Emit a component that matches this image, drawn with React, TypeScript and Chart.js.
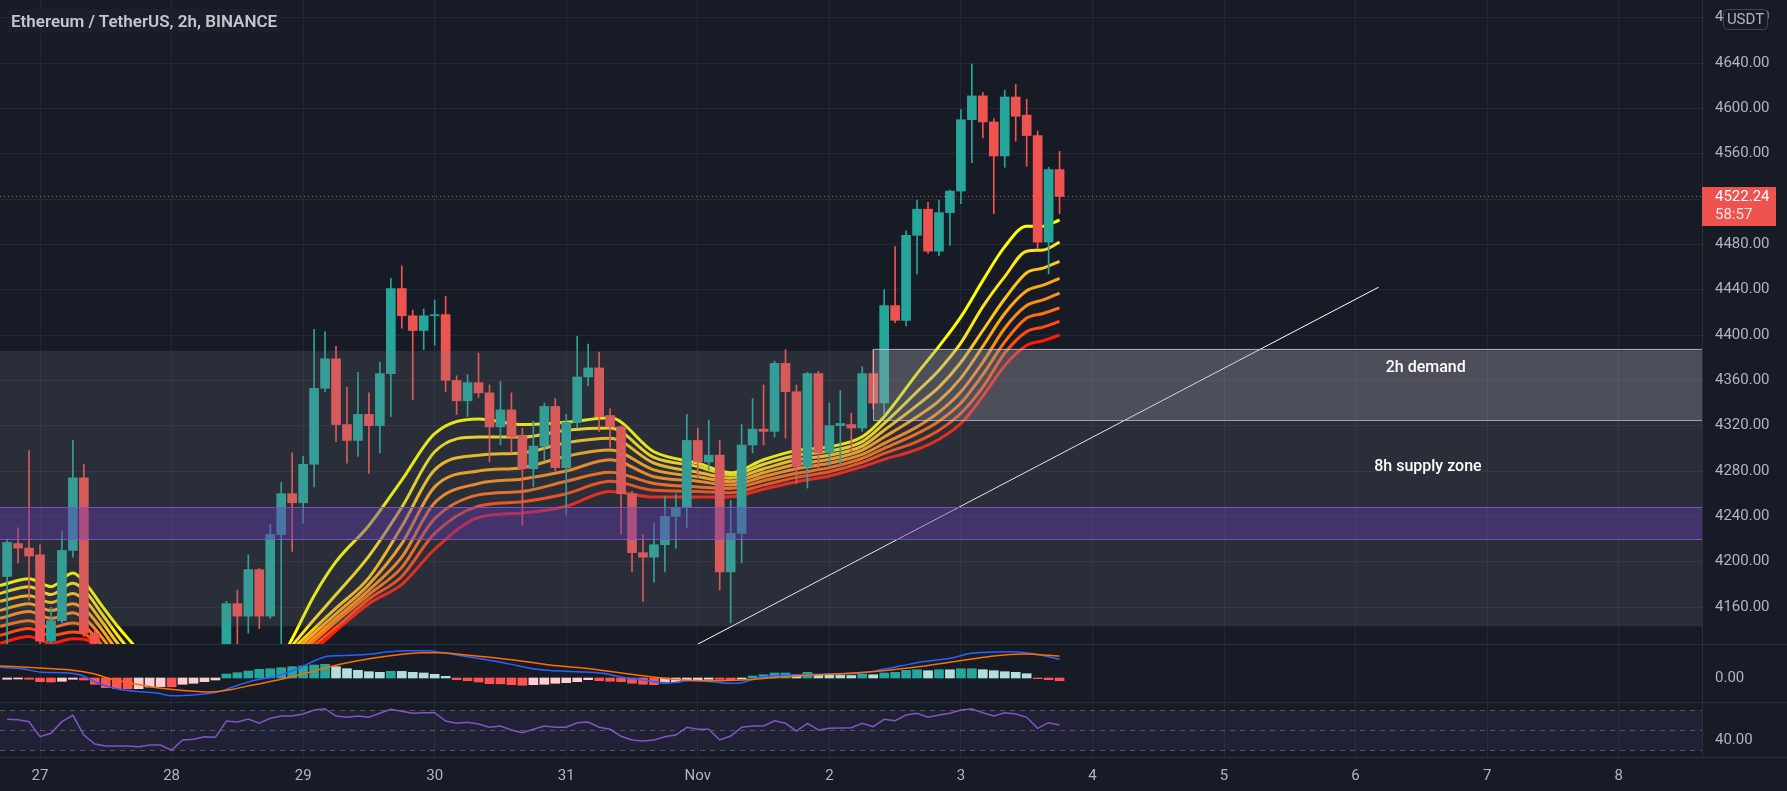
import React, { useEffect, useRef } from "react";
import { Chart, registerables } from "chart.js";

Chart.register(...registerables);

// ---------------- DATA ----------------
const FIRST_INDEX = -3; // candle index of first bar (2h bars, 0 = Oct 27 00:00)
const OPEN = [4187, 4216, 4212, 4206, 4130, 4148, 4210, 4274, 4137, 4127, 4105, 4098, 4110, 4102, 4095, 4100, 4090, 4104, 4106, 4112, 4124, 4163, 4152, 4193, 4152, 4224, 4260, 4252, 4286, 4353, 4379, 4321, 4307, 4330, 4320, 4366, 4441, 4417, 4404, 4417, 4418, 4360, 4342, 4358, 4349, 4319, 4334, 4311, 4282, 4302, 4337, 4283, 4323, 4363, 4371, 4329, 4319, 4260, 4208, 4204, 4215, 4240, 4248, 4307, 4288, 4294, 4191, 4225, 4303, 4317, 4315, 4375, 4350, 4284, 4366, 4296, 4320, 4321, 4318, 4366, 4340, 4426, 4413, 4488, 4511, 4474, 4508, 4527, 4590, 4611, 4588, 4558, 4610, 4594, 4576, 4482, 4546];
const HIGH = [4220, 4230, 4298, 4215, 4160, 4227, 4307, 4286, 4140, 4127, 4115, 4118, 4116, 4108, 4112, 4106, 4110, 4112, 4118, 4125, 4165, 4175, 4206, 4194, 4233, 4270, 4296, 4293, 4405, 4403, 4390, 4354, 4367, 4349, 4376, 4450, 4461, 4422, 4423, 4431, 4434, 4364, 4365, 4384, 4356, 4359, 4349, 4318, 4324, 4340, 4344, 4330, 4399, 4392, 4385, 4335, 4320, 4262, 4224, 4234, 4258, 4260, 4330, 4318, 4325, 4307, 4254, 4321, 4344, 4356, 4377, 4387, 4356, 4367, 4368, 4340, 4351, 4331, 4372, 4387, 4440, 4478, 4492, 4519, 4517, 4519, 4528, 4599, 4639, 4614, 4591, 4616, 4621, 4608, 4580, 4548, 4562];
const LOW = [4122, 4199, 4166, 4120, 4124, 4146, 4204, 4134, 4110, 4095, 4085, 4090, 4092, 4085, 4088, 4078, 4085, 4094, 4098, 4105, 4120, 4126, 4137, 4141, 4150, 4122, 4209, 4234, 4266, 4350, 4306, 4287, 4293, 4278, 4296, 4328, 4406, 4343, 4387, 4391, 4350, 4330, 4328, 4345, 4288, 4303, 4296, 4232, 4266, 4290, 4280, 4241, 4318, 4355, 4315, 4301, 4224, 4191, 4165, 4182, 4191, 4212, 4230, 4274, 4281, 4175, 4146, 4199, 4296, 4303, 4310, 4309, 4269, 4265, 4281, 4285, 4285, 4297, 4315, 4335, 4330, 4411, 4408, 4454, 4472, 4470, 4479, 4516, 4552, 4574, 4507, 4548, 4571, 4549, 4476, 4454, 4507];
const CLOSE = [4217, 4212, 4205, 4130, 4148, 4210, 4274, 4137, 4128, 4105, 4098, 4110, 4102, 4095, 4100, 4090, 4104, 4106, 4112, 4122, 4163, 4152, 4193, 4152, 4224, 4260, 4252, 4286, 4353, 4379, 4321, 4307, 4330, 4320, 4366, 4441, 4417, 4404, 4417, 4418, 4360, 4342, 4358, 4349, 4319, 4334, 4310, 4282, 4302, 4337, 4283, 4323, 4363, 4371, 4328, 4319, 4260, 4208, 4204, 4215, 4240, 4248, 4307, 4288, 4294, 4191, 4225, 4303, 4317, 4315, 4375, 4350, 4284, 4366, 4296, 4320, 4322, 4318, 4366, 4340, 4426, 4413, 4488, 4511, 4474, 4508, 4527, 4590, 4611, 4588, 4558, 4610, 4593, 4576, 4482, 4546, 4522.24];

// Moving-average ribbon (8 lines, fastest first) sampled at RIBBON_X
const RIBBON_X = [-3.65, -1, 1, 3, 4.3, 5.5, 7, 8.5, 10, 15, 20, 22, 23, 25, 27, 30, 33, 36, 40, 44, 48, 52, 56, 60, 63, 66, 69, 72, 75, 77, 80, 82, 84, 86, 88, 90, 91.5, 93];
const RIBBON_1 = [4179, 4185, 4178, 4190, 4179, 4163, 4144, 4127, 4110, 4088, 4095, 4115, 4132, 4170, 4200, 4232, 4272, 4313, 4326, 4321, 4323, 4327, 4297, 4287, 4278.5, 4290, 4298, 4301.4, 4310.3, 4328, 4366, 4390, 4416, 4448, 4478, 4496, 4496, 4501.5];
const RIBBON_2 = [4172, 4178, 4171, 4181, 4172, 4156, 4136, 4118, 4102, 4089, 4093, 4114.5, 4126, 4149, 4171, 4205, 4248, 4297, 4310, 4310, 4316, 4318, 4292, 4284, 4276.5, 4286, 4294, 4297.6, 4306, 4322, 4350, 4369, 4393, 4425, 4451.5, 4474, 4475, 4482];
const RIBBON_3 = [4165, 4170, 4164, 4172, 4164, 4149, 4129, 4111, 4096, 4090, 4093, 4113, 4122.5, 4141, 4159, 4186, 4231, 4281, 4294, 4296, 4305, 4309, 4287, 4279, 4273.6, 4282, 4290, 4294, 4302, 4316, 4338, 4354, 4376, 4404, 4432, 4455, 4459, 4465];
const RIBBON_4 = [4157, 4163, 4157, 4163, 4156, 4142, 4122, 4105, 4091, 4090, 4092, 4110, 4119, 4137, 4154, 4180, 4216, 4266, 4280, 4283, 4293, 4298.5, 4281, 4275, 4270.6, 4278.5, 4286, 4290.3, 4298.5, 4310, 4328, 4342, 4362, 4390, 4419, 4439, 4444, 4450];
const RIBBON_5 = [4150, 4156, 4150, 4155, 4148, 4135, 4116, 4100, 4087, 4090, 4091, 4107, 4116, 4133, 4150, 4175, 4204, 4252, 4269, 4273, 4280, 4290, 4275, 4271, 4267.6, 4275, 4282, 4286.8, 4294.7, 4304.4, 4319, 4332, 4350, 4376, 4406, 4426, 4431, 4437];
const RIBBON_6 = [4143, 4148, 4142, 4146, 4141, 4128, 4110, 4095, 4083, 4090, 4090, 4104.5, 4113, 4130, 4147, 4171, 4195, 4238, 4259, 4262, 4271, 4279, 4269, 4266, 4264.7, 4271.5, 4278, 4283, 4291.2, 4300, 4313, 4324, 4340, 4365, 4394, 4415, 4419, 4424];
const RIBBON_7 = [4135, 4141, 4135, 4138, 4135, 4122, 4105, 4091, 4080, 4089, 4089, 4101.6, 4110, 4126, 4142, 4167, 4187, 4225, 4249, 4253, 4260, 4271, 4263, 4262, 4260.8, 4267.6, 4274.4, 4279.4, 4287.7, 4295.6, 4306, 4316, 4331, 4354, 4384, 4403, 4407, 4412];
const RIBBON_8 = [4128, 4134, 4128, 4132, 4131, 4117, 4100, 4087, 4077, 4088, 4088, 4099, 4107, 4122, 4139, 4163, 4180, 4211, 4239, 4243, 4249, 4262, 4257, 4257, 4257.3, 4264, 4270.6, 4275.6, 4283.8, 4290.3, 4299, 4308, 4322, 4346, 4373, 4391, 4395, 4400];
const RIBBON = [RIBBON_1, RIBBON_2, RIBBON_3, RIBBON_4, RIBBON_5, RIBBON_6, RIBBON_7, RIBBON_8];

// MACD pane
const MACD_HIST = [-1.3, -1, -1.3, -3.7, -4, -3.3, -1.3, -2, -6.3, -9.7, -10.7, -10.8, -10.7, -9, -8.6, -8.8, -6.3, -5.3, -3.7, -2, 4, 5.3, 7, 8.7, 9.3, 10.3, 11.3, 12, 13, 13.7, 11.3, 9.3, 7.7, 6.3, 5.7, 6.7, 6.6, 5.7, 5, 3.7, 1.7, -1.7, -2.7, -4, -5.7, -5.8, -6.7, -7.3, -6.7, -6.3, -5.3, -4.7, -3.7, -1.7, -2.7, -3.3, -3.7, -5.3, -6.3, -6.7, -5, -4, -2.3, -2, -1.3, -1.4, -2, -1, 2, 3.3, 5, 5, 3.3, 5.7, 3.3, 2.7, 2.6, 2.5, 4, 3.3, 5, 5.7, 7.7, 8.3, 7.3, 8.3, 8.2, 9.3, 9.3, 8.3, 7.3, 6.3, 5.7, 4.3, -0.7, -1.7, -2.7];
const MACD_X = [-3.65, -1.7, 0.2, 2.1, 3.7, 5.3, 7.2, 9.2, 10.8, 12, 14, 16.2, 18.1, 19.7, 21.6, 23.6, 25.2, 26.4, 28.4, 30.3, 31.6, 33.5, 35.4, 36.7, 38, 39.9, 41.8, 43.7, 45.3, 46.5, 49.1, 51.3, 52.9, 54.5, 56.1, 57.4, 59.3, 61.3, 62.9, 64, 65.7, 67.3, 69.6, 72.1, 74.7, 76.9, 78.5, 80.5, 83, 84.9, 86.9, 88.8, 90.7, 92, 93];
const MACD_LINE = [10.7, 9.3, 5.7, 5.3, 3, -5.3, -11.3, -13.7, -15.3, -17.7, -17, -14, -7, -2, 2, 9.7, 18, 22, 22.7, 24, 26, 27.3, 27.3, 25.3, 23, 19.7, 16.3, 12, 8.7, 7.6, 6.3, 4.7, 1.3, -1.3, -3.7, -4.7, -2.7, -3.7, -5.3, -4.7, 0.7, 2.7, 3.3, 4, 4.7, 8.7, 12, 16.3, 19.7, 24.7, 26, 26.3, 24, 21.3, 18.7];
const SIGNAL_X = [-3.65, -0.4, 2.8, 4.7, 6.6, 9.2, 11.1, 13.3, 15.6, 17.2, 19.4, 22, 24.2, 26.4, 28.4, 30.3, 32.5, 34.8, 36.4, 38.9, 41.8, 44.4, 46.5, 49.7, 52.9, 56.1, 57.7, 61, 64.1, 67.3, 70.5, 73.7, 76.9, 80.1, 83.3, 86.5, 89.7, 93];
const SIGNAL_LINE = [12, 10.3, 8, 4.7, -1.3, -7, -10.3, -12.7, -14, -12, -7, -1.3, 4.7, 11.3, 16, 19.7, 23, 25.3, 25.3, 23, 19.7, 16.3, 13, 9.7, 5.3, 0.7, -1.3, -2.7, -2, 0.7, 3, 4.7, 7.3, 11.3, 16.3, 21.3, 24, 22];

// RSI pane
const RSI = [61, 60.5, 58.6, 43.6, 47, 58.6, 65, 45.3, 36.3, 34.3, 34.3, 34.3, 33.6, 35.3, 35.3, 30, 40.3, 41, 43.6, 43, 59.3, 58.3, 61.3, 57, 62, 64.3, 64.3, 66.3, 70.3, 71.6, 64.3, 63, 64.3, 63, 67, 71, 69, 67, 67.6, 67.6, 59.3, 57, 58, 56.3, 53, 54.3, 50.3, 47.6, 51, 54.3, 53, 53, 57.6, 58.3, 53, 51, 44, 40.3, 39.3, 40.3, 43.6, 45.3, 53, 51, 51, 40.3, 44.3, 53, 54.3, 54.3, 59.6, 57, 49.3, 57, 50.3, 52, 52.3, 52.6, 57, 53.6, 61, 59.6, 65.3, 67, 63, 65.3, 67, 70.3, 71.3, 67.6, 64.3, 67.6, 66.3, 63, 52, 57.6, 55.3];
const RSI_UPPER = 70;
const RSI_MID = 50;
const RSI_LOWER = 30;

// Drawings
const SUPPLY_ZONE = [4143, 4386];
const DEMAND_ZONE = [4325, 4388];
const DEMAND_START = 76;
const PURPLE_ZONE = [4220, 4248];
const TREND_X = [60, 122.1];
const TREND_Y = [4127.3, 4442.2];
const DEMAND_LABEL = "2h demand";
const DEMAND_LABEL_AT = [126.4, 4371];
const SUPPLY_LABEL = "8h supply zone";
const SUPPLY_LABEL_AT = [126.6, 4283.5];
const COUNTDOWN = "58:57";
const TITLE = "Ethereum / TetherUS, 2h, BINANCE";

// Axes
const X_MIN = -3.65;
const X_MAX = 151.6;
const DAY_TICKS = [0, 12, 24, 36, 48, 60, 72, 84, 96, 108, 120, 132, 144];
const DAY_LABELS = ["27", "28", "29", "30", "31", "Nov", "2", "3", "4", "5", "6", "7", "8"];
const PRICE_MIN = 4127.4;
const PRICE_MAX = 4695.6;
const PRICE_TICKS = [4160, 4200, 4240, 4280, 4320, 4360, 4400, 4440, 4480, 4520, 4560, 4600, 4640, 4680];
const MACD_MIN = -24;
const MACD_MAX = 34;
const MACD_TICKS = [0];
const RSI_MIN = 23.3;
const RSI_MAX = 78.3;
const RSI_TICKS = [40];

// ---------------- STYLE ----------------
const FONT = "Roboto, 'Noto Sans', sans-serif";
const BG = "#171b26";
const GRID = "rgba(54,58,69,0.45)";
const AXIS_LINE = "#2a2e39";
const TEXT = "#b2b5be";
const UP = "#26a69a";
const DOWN = "#ef5350";
const RIBBON_COLORS = ["#ffff00", "#ffe41a", "#ffc61a", "#ffa81a", "#ff8c1a", "#ff6e14", "#ff4d0f", "#ff1a0a"];
const W = 1787;
const AXIS_W = 85;
const MAIN_H = 644;
const MACD_H = 58;
const RSI_H = 89;
const XAXIS_H = 34;

function timeAxis(showLabels: boolean): any {
  return {
    type: "linear",
    min: X_MIN,
    max: X_MAX,
    bounds: "data",
    offset: false,
    afterBuildTicks: (s: any) => {
      s.ticks = DAY_TICKS.map((v) => ({ value: v }));
    },
    grid: { color: GRID, drawTicks: false, offset: false },
    border: { display: false },
    ticks: {
      display: showLabels,
      color: TEXT,
      font: { family: FONT, size: 15 },
      padding: 10,
      maxRotation: 0,
      minRotation: 0,
      autoSkip: false,
      callback: (_v: any, i: number) => DAY_LABELS[i],
    },
    afterFit: (s: any) => {
      s.height = showLabels ? XAXIS_H : 0;
      s.paddingLeft = 0;
      s.paddingRight = 0;
    },
  };
}

function valueAxis(min: number, max: number, ticks: number[], showGrid: boolean): any {
  return {
    position: "right",
    min,
    max,
    bounds: "data",
    afterBuildTicks: (s: any) => {
      s.ticks = ticks.map((v) => ({ value: v }));
    },
    grid: { display: showGrid, color: GRID, drawTicks: false },
    border: { display: true, color: AXIS_LINE },
    ticks: {
      color: TEXT,
      font: { family: FONT, size: 15 },
      padding: 13,
      callback: (v: any) => Number(v).toFixed(2),
    },
    afterFit: (s: any) => {
      s.width = AXIS_W;
      s.paddingTop = 0;
      s.paddingBottom = 0;
    },
  };
}

const baseOptions = {
  animation: false,
  responsive: false,
  maintainAspectRatio: false,
  events: [],
  layout: { padding: 0 },
  plugins: { legend: { display: false }, tooltip: { enabled: false }, title: { display: false } },
};

const mainDecor = {
  id: "mainDecor",
  afterDatasetsDraw(chart: any) {
    const { ctx, chartArea: a, scales } = chart;
    const x = scales.x;
    const y = scales.y;
    ctx.save();
    ctx.beginPath();
    ctx.rect(a.left, a.top, a.right - a.left, a.bottom - a.top);
    ctx.clip();
    // 8h supply zone
    const sTop = y.getPixelForValue(SUPPLY_ZONE[1]);
    const sBot = y.getPixelForValue(SUPPLY_ZONE[0]);
    ctx.fillStyle = "rgba(120,123,134,0.2)";
    ctx.fillRect(a.left, sTop, a.right - a.left, sBot - sTop);
    // 2h demand
    const dTop = y.getPixelForValue(DEMAND_ZONE[1]);
    const dBot = y.getPixelForValue(DEMAND_ZONE[0]);
    const dLeft = x.getPixelForValue(DEMAND_START);
    ctx.fillStyle = "rgba(178,181,190,0.25)";
    ctx.fillRect(dLeft, dTop, a.right - dLeft + 2, dBot - dTop);
    ctx.strokeStyle = "rgba(200,203,210,0.75)";
    ctx.lineWidth = 1;
    ctx.strokeRect(Math.round(dLeft) + 0.5, Math.round(dTop) + 0.5, a.right - dLeft + 4, Math.round(dBot - dTop));
    // purple band
    const pTop = y.getPixelForValue(PURPLE_ZONE[1]);
    const pBot = y.getPixelForValue(PURPLE_ZONE[0]);
    ctx.fillStyle = "rgba(103,58,183,0.4)";
    ctx.fillRect(a.left, pTop, a.right - a.left, pBot - pTop);
    ctx.strokeStyle = "rgba(126,87,194,0.9)";
    ctx.beginPath();
    ctx.moveTo(a.left, Math.round(pTop) + 0.5);
    ctx.lineTo(a.right, Math.round(pTop) + 0.5);
    ctx.moveTo(a.left, Math.round(pBot) + 0.5);
    ctx.lineTo(a.right, Math.round(pBot) + 0.5);
    ctx.stroke();
    // labels
    ctx.fillStyle = "#ffffff";
    ctx.font = `500 16px ${FONT}`;
    ctx.textAlign = "center";
    ctx.textBaseline = "middle";
    ctx.fillText(DEMAND_LABEL, x.getPixelForValue(DEMAND_LABEL_AT[0]), y.getPixelForValue(DEMAND_LABEL_AT[1]));
    ctx.fillText(SUPPLY_LABEL, x.getPixelForValue(SUPPLY_LABEL_AT[0]), y.getPixelForValue(SUPPLY_LABEL_AT[1]));
    // last price dotted line
    const last = CLOSE[CLOSE.length - 1];
    const ly = Math.round(y.getPixelForValue(last)) + 0.5;
    ctx.strokeStyle = "rgba(239,83,80,0.95)";
    ctx.setLineDash([1, 3]);
    ctx.beginPath();
    ctx.moveTo(a.left, ly);
    ctx.lineTo(a.right, ly);
    ctx.stroke();
    ctx.restore();
  },
  afterDraw(chart: any) {
    const { ctx, chartArea: a, scales } = chart;
    const y = scales.y;
    const last = CLOSE[CLOSE.length - 1];
    const ly = y.getPixelForValue(last);
    ctx.save();
    // price label
    ctx.fillStyle = "#ef5350";
    ctx.fillRect(a.right, Math.round(ly) - 9, 74, 39);
    ctx.fillStyle = "#ffffff";
    ctx.font = `15px ${FONT}`;
    ctx.textAlign = "left";
    ctx.textBaseline = "middle";
    ctx.fillText(last.toFixed(2), a.right + 13, ly + 1);
    ctx.fillStyle = "rgba(255,255,255,0.85)";
    ctx.fillText(COUNTDOWN, a.right + 13, ly + 19);
    // currency button
    const bx = a.right + 21;
    const by = 9;
    const bw = 44;
    const bh = 20;
    ctx.fillStyle = BG;
    ctx.strokeStyle = "#434651";
    ctx.lineWidth = 1;
    ctx.beginPath();
    (ctx as any).roundRect(bx + 0.5, by + 0.5, bw, bh, 4);
    ctx.fill();
    ctx.stroke();
    ctx.fillStyle = TEXT;
    ctx.textAlign = "center";
    ctx.fillText("USDT", bx + bw / 2 + 0.5, by + bh / 2 + 1);
    ctx.restore();
  },
};

const rsiDecor = {
  id: "rsiDecor",
  beforeDatasetsDraw(chart: any) {
    const { ctx, chartArea: a, scales } = chart;
    const y = scales.y;
    const yU = y.getPixelForValue(RSI_UPPER);
    const yM = y.getPixelForValue(RSI_MID);
    const yL = y.getPixelForValue(RSI_LOWER);
    ctx.save();
    ctx.fillStyle = "rgba(126,87,194,0.1)";
    ctx.fillRect(a.left, yU, a.right - a.left, yL - yU);
    ctx.strokeStyle = "rgba(120,123,134,0.6)";
    ctx.lineWidth = 1;
    ctx.setLineDash([5, 5]);
    for (const yy of [yU, yM, yL]) {
      ctx.beginPath();
      ctx.moveTo(a.left, Math.round(yy) + 0.5);
      ctx.lineTo(a.right, Math.round(yy) + 0.5);
      ctx.stroke();
    }
    ctx.restore();
  },
};

function histColor(i: number): string {
  const v = MACD_HIST[i];
  const prev = i > 0 ? MACD_HIST[i - 1] : v;
  if (v >= 0) return v >= prev ? "#26a69a" : "#b2dfdb";
  return v < prev ? "#ff5252" : "#ffcdd2";
}

function mainConfig(): any {
  const xs = OPEN.map((_, i) => FIRST_INDEX + i);
  const colors = OPEN.map((o, i) => (CLOSE[i] >= o ? UP : DOWN));
  const ribbonSets = RIBBON.map((vals, k) => ({
    type: "line",
    data: vals.map((v, j) => ({ x: RIBBON_X[j], y: v })),
    borderColor: RIBBON_COLORS[k],
    borderWidth: 3,
    pointRadius: 0,
    cubicInterpolationMode: "monotone",
    order: 2 + k,
  }));
  return {
    type: "bar",
    data: {
      datasets: [
        {
          type: "line",
          data: TREND_X.map((x, j) => ({ x, y: TREND_Y[j] })),
          borderColor: "#ffffff",
          borderWidth: 1,
          pointRadius: 0,
          order: -1,
        },
        {
          type: "bar",
          data: xs.map((x, i) => ({ x, y: [OPEN[i], CLOSE[i]] })),
          backgroundColor: colors,
          borderWidth: 0,
          barThickness: 9,
          minBarLength: 1,
          grouped: false,
          order: 0,
        },
        {
          type: "bar",
          data: xs.map((x, i) => ({ x, y: [LOW[i], HIGH[i]] })),
          backgroundColor: colors,
          borderWidth: 0,
          barThickness: 1,
          grouped: false,
          order: 1,
        },
        ...ribbonSets,
      ],
    },
    options: {
      ...baseOptions,
      scales: {
        x: timeAxis(false),
        y: valueAxis(PRICE_MIN, PRICE_MAX, PRICE_TICKS, true),
      },
    },
    plugins: [mainDecor],
  };
}

function macdConfig(): any {
  const xs = MACD_HIST.map((_, i) => FIRST_INDEX + i);
  return {
    type: "bar",
    data: {
      datasets: [
        {
          type: "line",
          data: SIGNAL_X.map((x, j) => ({ x, y: SIGNAL_LINE[j] })),
          borderColor: "#ff6d00",
          borderWidth: 1.5,
          pointRadius: 0,
          cubicInterpolationMode: "monotone",
          order: 0,
        },
        {
          type: "line",
          data: MACD_X.map((x, j) => ({ x, y: MACD_LINE[j] })),
          borderColor: "#2962ff",
          borderWidth: 1.5,
          pointRadius: 0,
          cubicInterpolationMode: "monotone",
          order: 1,
        },
        {
          type: "bar",
          data: xs.map((x, i) => ({ x, y: MACD_HIST[i] })),
          backgroundColor: MACD_HIST.map((_, i) => histColor(i)),
          borderWidth: 0,
          barThickness: 9,
          grouped: false,
          order: 2,
        },
      ],
    },
    options: {
      ...baseOptions,
      scales: {
        x: timeAxis(false),
        y: valueAxis(MACD_MIN, MACD_MAX, MACD_TICKS, false),
      },
    },
  };
}

function rsiConfig(): any {
  const xs = RSI.map((_, i) => FIRST_INDEX + i);
  return {
    type: "line",
    data: {
      datasets: [
        {
          data: xs.map((x, i) => ({ x, y: RSI[i] })),
          borderColor: "#7e57c2",
          borderWidth: 1.5,
          pointRadius: 0,
          tension: 0,
        },
      ],
    },
    options: {
      ...baseOptions,
      scales: {
        x: timeAxis(true),
        y: valueAxis(RSI_MIN, RSI_MAX, RSI_TICKS, false),
      },
    },
    plugins: [rsiDecor],
  };
}

export default function App() {
  const mainRef = useRef<HTMLCanvasElement>(null);
  const macdRef = useRef<HTMLCanvasElement>(null);
  const rsiRef = useRef<HTMLCanvasElement>(null);

  useEffect(() => {
    document.body.style.margin = "0";
    document.body.style.background = BG;
    const charts = [
      new Chart(mainRef.current as HTMLCanvasElement, mainConfig()),
      new Chart(macdRef.current as HTMLCanvasElement, macdConfig()),
      new Chart(rsiRef.current as HTMLCanvasElement, rsiConfig()),
    ];
    return () => charts.forEach((c) => c.destroy());
  }, []);

  const canvasStyle = (top: number, h: number): React.CSSProperties => ({
    position: "absolute",
    left: 0,
    top,
    width: W,
    height: h,
    display: "block",
  });
  const sep = (top: number): React.CSSProperties => ({
    position: "absolute",
    left: 0,
    top,
    width: W,
    height: 1,
    background: AXIS_LINE,
  });

  return (
    <div style={{ position: "relative", width: W, height: 791, background: BG, overflow: "hidden", fontFamily: FONT }}>
      <canvas ref={mainRef} width={W} height={MAIN_H} style={canvasStyle(0, MAIN_H)} />
      <canvas ref={macdRef} width={W} height={MACD_H} style={canvasStyle(MAIN_H, MACD_H)} />
      <canvas ref={rsiRef} width={W} height={RSI_H} style={canvasStyle(MAIN_H + MACD_H, RSI_H)} />
      <div style={sep(MAIN_H)} />
      <div style={sep(MAIN_H + MACD_H)} />
      <div style={sep(MAIN_H + MACD_H + RSI_H - XAXIS_H)} />
      <div
        style={{
          position: "absolute",
          left: 8,
          top: 9,
          padding: "1px 3px",
          background: "rgba(28,32,44,0.85)",
          color: "#c3c6ce",
          font: `600 17px ${FONT}`,
          lineHeight: "22px",
          whiteSpace: "nowrap",
        }}
      >
        {TITLE}
      </div>
    </div>
  );
}
